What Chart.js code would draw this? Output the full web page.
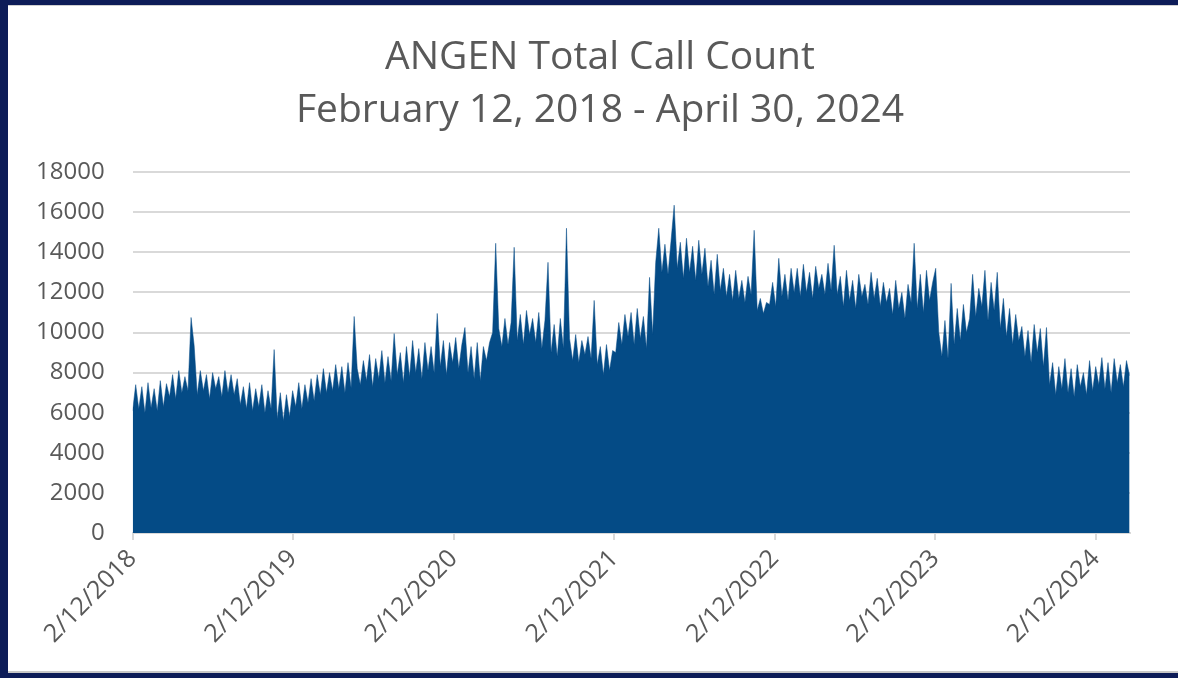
<!DOCTYPE html>
<html>
<head>
<meta charset="utf-8">
<script src="https://cdn.jsdelivr.net/npm/chart.js@4.4.1/dist/chart.umd.min.js"></script>
<style>
  html, body { margin: 0; padding: 0; }
  body { width: 1178px; height: 678px; background: #0d1c58; position: relative; overflow: hidden; }
  #panel { position: absolute; left: 8px; top: 5px; width: 1170px; height: 668px; background: #fff;
           border-top: 1px solid #d0d0d0; border-bottom: 2px solid #c8c8c8; box-sizing: border-box; }
</style>
</head>
<body>
<div id="panel"><canvas id="myChart" width="1170" height="666"></canvas></div>
<script>
// weekly call counts, one value per 7 days starting 2/12/2018
const callCounts = [
    6100, 7400, 6200, 7300, 6000, 7500, 6250, 7200, 6100, 7600, 6300, 7450,
    6800, 7900, 6700, 8100, 7000, 7800, 7100,
    10750, 9350,
    6900, 8100, 7100, 7900, 6700, 8000, 7200, 7800, 6800, 8100, 7000, 7900, 6900, 7700,
    6400, 7300, 6200, 7500, 6100, 7200, 6300, 7400, 6000, 7100, 6200,
    9150,
    5700, 7000, 5600, 6900, 5800, 7100,
    6300, 7500, 6200, 7400, 6500, 7700, 6600,
    7900, 6900, 8200, 7000, 8000, 7100, 8400, 7200, 8300, 7000, 8500, 7250,
    10800,
    8200, 7400, 8600, 7600, 8900, 7300, 8700, 7700, 9100, 7500, 8800, 7600,
    9950,
    7900, 9000, 7500, 9300, 7800, 9600, 8000, 9200, 7700, 9500, 8100, 9300,
    8000, 10950,
    8300, 9600, 7900, 9500, 8500, 9750, 8200, 9400,
    10250, 8000, 9300, 7700, 9500, 7600, 9300, 8600,
    9500, 10000,
    14450,
    10200, 9300, 10700, 9400, 10500,
    14250,
    9600, 10900, 9400, 11100, 9900, 10700, 9500, 11000, 9200, 10600,
    13500,
    9000, 10400, 8800, 10700, 9200,
    15200,
    9700, 8600, 9900, 8500, 9600, 8900, 9800, 8700,
    11600,
    8400, 9300, 7900, 9400, 8100, 9100,
    9000, 10500, 9400, 10900, 9800,
    11000, 9400, 11200, 9700, 10800, 9200, 12750, 9900,
    13500, 15200,
    13000, 14400, 12900, 14600,
    16350,
    13200, 14500, 12700, 14700, 13000, 14300, 12600, 14600, 12900,
    14200, 12300, 13600, 11900, 13900, 12100, 13200, 11800,
    12900, 11600, 13100, 11700, 12600, 11500, 12800, 11900,
    15100,
    11100, 11700, 10950, 11500,
    11400, 12500, 11300, 13700, 11800, 12900, 11600, 13200, 12000,
    13200, 11800, 13400, 12000, 13000, 11700, 13300, 12200, 12900, 11900, 13450, 12100,
    14350,
    11900, 12800, 11300, 13100, 11600, 12600, 11200, 12900, 11800, 12400, 11400, 13000, 11700, 12700, 11300, 12500, 11500,
    12200, 10900, 12600, 11200, 12000, 10700, 12400, 11500,
    14450,
    11200, 12900, 11000, 13100, 11600, 12500,
    13200,
    10000, 8800, 10600, 8700,
    12450,
    9400, 11200, 9600, 11400, 10000, 10700,
    12900, 10800, 12200, 11300, 13100, 10600, 12500, 11100, 13000,
    10200, 11700, 9800, 11200, 9400, 10900, 9600,
    10300, 8800, 10100, 8500, 10400, 9000, 10200, 8300, 10250,
    7400, 8500, 6900, 8300, 7200, 8700, 7000, 8200, 6800, 8400, 7300, 8000, 6900, 8600,
    7100, 8300, 7400, 8750, 7200, 8500, 7000, 8700, 7500, 8400, 7300, 8600, 7850
];
const diasPorPunto = 7;
const totalDias = 2269;   // 2/12/2018 -> 4/30/2024

// x-axis ticks (days since 2/12/2018) and their labels
const tickDias = [0, 365, 730, 1096, 1461, 1826, 2191];
const tickLabels = ['2/12/2018', '2/12/2019', '2/12/2020', '2/12/2021', '2/12/2022', '2/12/2023', '2/12/2024'];

const titulo = ['ANGEN Total Call Count', 'February 12, 2018 - April 30, 2024'];

const puntos = callCounts.map((v, i) => ({ x: i * diasPorPunto, y: v }));

const gris = '#595959';
const fuente = "'Open Sans', 'Noto Sans', sans-serif";

// centra el titulo sobre el panel (un poco a la derecha, como el original)
const centrarTitulo = {
    id: 'centrarTitulo',
    afterLayout(chart) {
        const tb = chart.titleBlock;
        if (!tb) return;
        const dx = 592 - (tb.left + tb.right) / 2;
        tb.left += dx;
        tb.right += dx;
    }
};

const ctx = document.getElementById('myChart').getContext('2d');
new Chart(ctx, {
    type: 'line',
    data: {
        datasets: [{
            data: puntos,
            borderColor: '#044b86',
            backgroundColor: '#044b86',
            borderWidth: 0.5,
            pointRadius: 0,
            fill: 'origin',
            tension: 0
        }]
    },
    plugins: [centrarTitulo],
    options: {
        responsive: false,
        animation: false,
        layout: { padding: { left: 0, right: 48, top: 25, bottom: 19 } },
        plugins: {
            legend: { display: false },
            tooltip: { enabled: false },
            title: {
                display: true,
                text: titulo,
                color: gris,
                font: { family: fuente, size: 39, weight: 'normal', lineHeight: 1.36 },
                padding: { top: 0, bottom: 35 }
            }
        },
        scales: {
            x: {
                type: 'linear',
                min: 0,
                max: totalDias,
                afterBuildTicks: axis => {
                    axis.ticks = tickDias.map(v => ({ value: v }));
                },
                ticks: {
                    autoSkip: false,
                    maxRotation: 45,
                    minRotation: 45,
                    color: gris,
                    padding: 4,
                    font: { family: fuente, size: 25 },
                    callback: (value) => {
                        const k = tickDias.indexOf(value);
                        return k >= 0 ? tickLabels[k] : '';
                    }
                },
                grid: { drawOnChartArea: false, drawTicks: true, tickLength: 7, color: '#d9d9d9', lineWidth: 2 },
                border: { display: true, color: '#d9d9d9', width: 2 }
            },
            y: {
                min: 0,
                max: 18000,
                ticks: {
                    stepSize: 2000,
                    color: gris,
                    padding: 28,
                    font: { family: fuente, size: 24 },
                    callback: v => String(v)
                },
                grid: { color: '#d9d9d9', lineWidth: 2, drawTicks: false },
                border: { display: false }
            }
        }
    }
});
</script>
</body>
</html>
